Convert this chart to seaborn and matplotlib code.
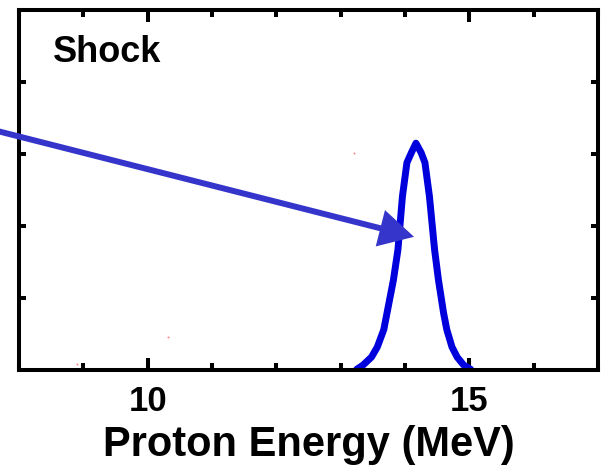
import matplotlib
matplotlib.use("Agg")
import matplotlib.pyplot as plt
import seaborn as sns
import pandas as pd
from matplotlib.ticker import MultipleLocator, FixedLocator, NullFormatter

# ---- data ----
energy = [13.25, 13.35, 13.48, 13.57, 13.67, 13.72, 13.77, 13.82, 13.89, 13.96,
          14.03, 14.10, 14.17, 14.25, 14.31, 14.38, 14.46, 14.52, 14.56, 14.60,
          14.65, 14.73, 14.81, 14.91, 15.02]
counts = [0.01, 0.07, 0.18, 0.32, 0.56, 0.79, 1.02, 1.25, 1.67, 2.41,
          2.88, 3.02, 3.15, 3.02, 2.88, 2.41, 1.67, 1.25, 1.02, 0.79,
          0.56, 0.32, 0.18, 0.07, 0.01]
noise_x = [8.90, 10.31, 13.21, 16.00]
noise_y = [0.08, 0.46, 3.01, 0.02]
xticks_major = [10, 15]
xtick_labels = ["10", "15"]
panel_label = "Shock"
xlabel = "Proton Energy (MeV)"
arrow_tip = (14.14, 1.85)

sns.set_style("ticks")
plt.rcParams["font.family"] = ["Liberation Sans", "DejaVu Sans"]
plt.rcParams["font.weight"] = "bold"
plt.rcParams["text.color"] = "black"
plt.rcParams["axes.labelcolor"] = "black"
plt.rcParams["xtick.color"] = "black"
plt.rcParams["ytick.color"] = "black"

fig = plt.figure(figsize=(6.04, 4.76), dpi=100)
ax = fig.add_axes([19 / 604, 106 / 476, 579 / 604, 360 / 476])

df = pd.DataFrame({"energy": energy, "counts": counts})
sns.lineplot(data=df, x="energy", y="counts", ax=ax, color="#0000dd",
             lw=5, estimator=None, sort=False, solid_joinstyle="round",
             solid_capstyle="round")
ax.scatter(noise_x, noise_y, s=2, color="#ff8080", lw=0, zorder=1)

ax.set_xlim(8, 17)
ax.set_ylim(0, 5)

ax.xaxis.set_major_locator(FixedLocator(xticks_major))
ax.set_xticklabels(xtick_labels)
ax.xaxis.set_minor_locator(MultipleLocator(1))
ax.yaxis.set_major_locator(FixedLocator([1, 2, 3, 4]))
ax.yaxis.set_major_formatter(NullFormatter())

for s in ax.spines.values():
    s.set_linewidth(2.9)
    s.set_color("black")

ax.tick_params(axis="x", which="major", direction="in", length=8.5, width=2.9,
               top=True, bottom=True, labelsize=25, pad=11,
               colors="black", labelcolor="black")
ax.tick_params(axis="x", which="minor", direction="in", length=5, width=2.9,
               top=True, bottom=True, colors="black")
ax.tick_params(axis="y", which="major", direction="in", length=5, width=2.9,
               left=True, right=True, colors="black")
for lab in ax.get_xticklabels():
    lab.set_fontweight("bold")
    lab.set_color("black")

ax.set_xlabel(xlabel, fontsize=30, fontweight="bold", labelpad=5, color="black")
ax.set_ylabel("")

ax.text(0.0587, 0.856, panel_label, transform=ax.transAxes, fontsize=26,
        fontweight="bold", ha="left", va="baseline", color="black")

ax.annotate("", xy=arrow_tip, xycoords="data",
            xytext=(-5, 476 - 130.4), textcoords="figure pixels",
            arrowprops=dict(width=4.3, headwidth=27, headlength=25, shrink=0,
                            facecolor="#3535cc", edgecolor="none"),
            annotation_clip=False)

fig.savefig("out.png", dpi=100)
